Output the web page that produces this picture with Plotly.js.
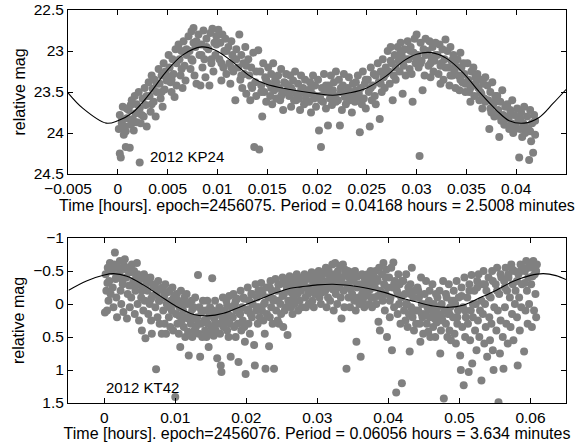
<!DOCTYPE html>
<html>
<head>
<meta charset="utf-8">
<script src="https://cdn.plot.ly/plotly-3.0.1.min.js"></script>
<style>html,body{margin:0;padding:0;background:#fff;}#chart{width:587px;height:442px;}</style>
</head>
<body>
<div id="chart"></div>
<script>
// ---- 2012 KP24 (top panel) ----
const kp24_t = [
0.0001,0.0002,0.0003,0.0004,0.0005,0.0006,0.0007,0.0008,0.0009,0.0002,0.0008,
0.0011,0.0012,0.0013,0.0014,0.0015,0.0016,0.0017,0.0018,0.0019,0.0013,
0.0021,0.0022,0.0022,0.0023,0.0025,0.0026,0.0027,0.0028,0.0029,
0.0031,0.0032,0.0033,0.0034,0.0035,0.0036,0.0037,0.0038,0.0039,
0.0041,0.0042,0.0043,0.0044,0.0045,0.0046,0.0047,0.0048,0.0049,
0.0051,0.0052,0.0053,0.0054,0.0055,0.0056,0.0057,0.0058,0.0059,
0.0061,0.0062,0.0063,0.0064,0.0065,0.0066,0.0067,0.0068,0.0069,
0.0071,0.0072,0.0073,0.0074,0.0075,0.0076,0.0077,0.0078,0.0079,0.0076,
0.0081,0.0082,0.0083,0.0084,0.0085,0.0086,0.0087,0.0088,0.0089,
0.0091,0.0092,0.0093,0.0094,0.0095,0.0096,0.0097,0.0098,0.0099,
0.0101,0.0102,0.0103,0.0104,0.0105,0.0106,0.0107,0.0108,0.0109,
0.0111,0.0112,0.0113,0.0114,0.0115,0.0116,0.0117,0.0118,0.0119,
0.0121,0.0122,0.0123,0.0124,0.0125,0.0126,0.0127,0.0128,0.0129,
0.0131,0.0132,0.0133,0.0134,0.0135,0.0136,0.0137,0.0138,0.0139,
0.0141,0.0142,0.0143,0.0144,0.0145,0.0146,0.0147,0.0148,0.0149,
0.0151,0.0152,0.0153,0.0154,0.0155,0.0156,0.0157,0.0158,0.0159,
0.0161,0.0162,0.0163,0.0164,0.0165,0.0166,0.0167,0.0168,0.0169,
0.0171,0.0172,0.0173,0.0174,0.0175,0.0176,0.0177,0.0178,0.0179,
0.0181,0.0182,0.0183,0.0184,0.0185,0.0186,0.0187,0.0188,0.0189,
0.0191,0.0192,0.0193,0.0194,0.0195,0.0196,0.0197,0.0198,0.0199,
0.0201,0.0202,0.0203,0.0204,0.0205,0.0206,0.0207,0.0208,0.0209,
0.0211,0.0212,0.0213,0.0214,0.0215,0.0216,0.0217,0.0218,0.0219,
0.0221,0.0222,0.0223,0.0224,0.0225,0.0226,0.0227,0.0228,0.0229,
0.0231,0.0232,0.0233,0.0234,0.0235,0.0236,0.0237,0.0238,0.0239,
0.0241,0.0242,0.0243,0.0244,0.0245,0.0246,0.0247,0.0248,0.0249,
0.0251,0.0252,0.0253,0.0254,0.0255,0.0256,0.0257,0.0258,0.0259,
0.0261,0.0262,0.0263,0.0264,0.0265,0.0266,0.0267,0.0268,0.0269,
0.0271,0.0272,0.0273,0.0274,0.0275,0.0276,0.0277,0.0278,0.0279,
0.0281,0.0282,0.0283,0.0284,0.0285,0.0286,0.0287,0.0288,0.0289,
0.0291,0.0292,0.0293,0.0294,0.0295,0.0296,0.0297,0.0298,0.0299,
0.0300,0.0301,0.0302,0.0303,0.0304,0.0305,0.0306,0.0307,0.0308,0.0309,
0.0311,0.0312,0.0313,0.0314,0.0315,0.0316,0.0317,0.0318,0.0319,
0.0321,0.0322,0.0323,0.0324,0.0325,0.0326,0.0327,0.0328,0.0329,
0.0331,0.0332,0.0333,0.0334,0.0335,0.0336,0.0337,0.0338,0.0339,
0.0341,0.0342,0.0343,0.0344,0.0345,0.0346,0.0347,0.0348,0.0349,
0.0351,0.0352,0.0353,0.0354,0.0355,0.0356,0.0357,0.0358,0.0359,
0.0361,0.0362,0.0363,0.0364,0.0365,0.0366,0.0367,0.0368,0.0369,
0.0371,0.0372,0.0373,0.0374,0.0375,0.0376,0.0377,0.0378,0.0379,
0.0381,0.0382,0.0383,0.0384,0.0385,0.0386,0.0387,0.0388,0.0389,
0.0391,0.0392,0.0393,0.0394,0.0395,0.0396,0.0397,0.0398,0.0399,
0.0401,0.0402,0.0403,0.0404,0.0405,0.0406,0.0407,0.0408,0.0409,
0.0411,0.0412,0.0413,0.0414,0.0415,0.0416,0.0417,0.0418,0.0419
];
const kp24_mag = [
23.95,23.78,24.30,23.88,23.68,24.02,23.92,24.17,23.82,24.25,23.98,
23.72,24.18,23.90,23.60,23.83,23.97,23.55,23.76,23.87,23.66,
23.50,24.36,23.70,23.88,23.58,23.80,23.45,23.66,23.92,
23.38,23.55,23.74,23.30,23.46,23.62,23.35,23.80,23.50,
23.22,23.40,23.58,23.30,23.68,23.15,23.47,23.25,23.36,
23.05,23.20,23.38,23.50,23.10,23.28,23.56,22.98,23.42,
22.92,23.10,23.30,23.00,23.45,22.88,23.18,23.36,23.05,
22.82,23.00,23.22,22.76,23.12,22.90,23.30,22.95,23.40,22.72,
22.80,23.05,23.42,22.92,23.20,22.75,23.10,23.32,22.85,
22.98,23.42,22.78,23.15,22.73,23.25,22.90,23.05,22.82,
22.74,23.10,22.90,23.36,22.80,23.20,23.00,22.85,23.28,
22.95,23.15,23.40,22.88,23.05,23.25,23.10,23.60,22.98,
23.20,22.80,23.35,23.05,23.45,23.15,23.28,22.95,23.52,
23.10,23.30,23.60,23.20,23.45,23.02,24.17,23.38,23.55,
22.99,24.20,23.25,23.42,23.80,23.15,23.50,23.32,23.62,
23.20,23.40,23.55,23.28,23.65,23.15,23.48,23.35,23.58,
23.30,23.45,23.60,23.22,23.52,23.72,23.38,23.50,23.28,
23.42,23.55,23.30,23.68,23.48,23.36,23.60,23.25,23.52,
23.40,23.58,23.72,23.30,23.50,23.45,23.65,23.35,23.55,
23.48,23.62,23.38,23.75,23.52,23.30,23.58,23.42,23.68,
23.35,23.97,23.55,24.17,23.45,23.62,23.28,23.50,23.70,
23.91,23.42,23.58,23.30,23.66,23.48,23.38,23.55,23.25,
23.60,23.35,23.91,23.50,23.72,23.42,23.28,23.56,23.65,
23.45,23.32,23.60,23.50,23.75,23.40,23.55,23.62,23.38,
23.30,23.52,23.99,23.45,23.65,23.25,23.58,23.40,23.70,
23.35,23.50,23.92,23.20,23.60,23.42,23.28,23.55,23.65,
23.15,23.38,23.83,23.25,23.50,23.10,23.32,23.45,23.20,
23.00,23.25,23.40,22.95,23.15,23.60,23.30,23.05,23.20,
22.95,23.12,23.25,22.90,23.05,23.52,23.18,22.98,23.30,
22.88,23.10,23.22,22.95,23.28,23.62,23.02,22.85,23.15,
22.80,23.05,23.20,24.28,22.90,23.12,23.48,22.98,23.30,22.85,
23.00,23.18,22.88,23.32,23.08,22.95,23.25,23.12,22.90,
23.05,23.28,22.92,23.40,23.15,22.98,23.35,23.10,22.86,
23.00,23.20,23.42,22.95,23.12,23.30,23.05,23.25,23.45,
23.10,23.30,23.48,23.02,23.20,23.38,23.15,23.28,23.50,
23.15,23.35,23.50,23.62,23.25,23.42,23.20,23.55,23.32,
23.28,23.45,23.60,23.35,23.52,23.70,23.40,23.58,23.32,
23.42,23.60,23.95,23.50,23.75,23.38,23.65,23.80,23.55,
23.55,23.72,24.05,23.62,23.85,23.48,23.78,23.90,23.68,
23.65,23.82,23.95,23.72,23.88,23.60,24.00,23.78,23.90,
23.70,23.85,24.30,23.95,23.75,24.05,23.88,23.68,24.00,
23.80,23.95,24.33,23.72,24.10,23.88,24.24,23.78,24.02
];
// denser core of the KP24 light curve
const kp24_core_t = [
0.0004,0.0009,0.0014,0.0019,0.0024,0.0029,0.0034,0.0039,0.0044,0.0049,0.0054,0.0059,0.0064,0.0069,0.0074,0.0079,0.0084,0.0089,0.0094,0.0099,
0.0104,0.0109,0.0114,0.0119,0.0124,0.0129,0.0134,0.0139,0.0144,0.0149,0.0154,0.0159,0.0164,0.0169,0.0174,0.0179,0.0184,0.0189,0.0194,0.0199,
0.0204,0.0209,0.0214,0.0219,0.0224,0.0229,0.0234,0.0239,0.0244,0.0249,0.0254,0.0259,0.0264,0.0269,0.0274,0.0279,0.0284,0.0289,0.0294,0.0299,
0.0304,0.0309,0.0314,0.0319,0.0324,0.0329,0.0334,0.0339,0.0344,0.0349,0.0354,0.0359,0.0364,0.0369,0.0374,0.0379,0.0384,0.0389,0.0394,0.0399,
0.0404,0.0409,0.0414,0.0419
];
const kp24_core_mag = [
23.85,23.70,23.88,23.65,23.78,23.55,23.65,23.40,23.50,23.30,23.35,23.15,23.22,22.98,23.10,22.88,23.05,22.95,23.10,22.92,
23.15,23.00,23.20,23.10,23.30,23.18,23.42,23.25,23.50,23.35,23.45,23.38,23.55,23.40,23.45,23.60,23.48,23.62,23.45,23.55,
23.60,23.42,23.50,23.62,23.45,23.52,23.55,23.48,23.58,23.35,23.45,23.30,23.40,23.28,23.12,23.35,23.02,23.10,23.00,23.08,
23.15,23.05,23.15,23.05,23.18,23.20,23.30,23.18,23.35,23.40,23.45,23.40,23.50,23.62,23.70,23.62,23.80,23.82,23.78,23.95,
23.82,23.92,23.98,23.85
];
const kp24_fit_t   = [-0.005,-0.0035,-0.00117,0,0.0015,0.0032,0.0048,0.0065,0.0084,0.0098,0.0115,0.0132,0.0148,0.0173,0.02,0.0216,0.0233,0.025,0.027,0.0286,0.03,0.0315,0.033,0.0347,0.0363,0.038,0.0393,0.0408,0.0423,0.0437,0.045];
const kp24_fit_mag = [23.51,23.70,23.88,23.85,23.75,23.52,23.26,23.05,22.95,22.99,23.13,23.30,23.40,23.47,23.52,23.54,23.51,23.45,23.30,23.13,23.04,23.02,23.09,23.27,23.50,23.72,23.85,23.88,23.81,23.64,23.47];

// ---- 2012 KT42 (bottom panel) ----
const kt42_t = [
0.0001,0.0002,0.0003,0.0004,0.0005,0.0006,0.0007,0.0008,0.0009,
0.0011,0.0012,0.0013,0.0014,0.0015,0.0016,0.0017,0.0018,0.0019,
0.0021,0.0022,0.0023,0.0024,0.0025,0.0026,0.0027,0.0028,0.0029,
0.0031,0.0032,0.0033,0.0034,0.0035,0.0036,0.0037,0.0038,0.0039,
0.0041,0.0042,0.0043,0.0044,0.0045,0.0046,0.0047,0.0048,0.0049,
0.0051,0.0052,0.0053,0.0054,0.0055,0.0056,0.0057,0.0058,0.0059,
0.0061,0.0062,0.0063,0.0064,0.0065,0.0066,0.0067,0.0068,0.0069,
0.0071,0.0072,0.0073,0.0074,0.0075,0.0076,0.0077,0.0078,0.0079,
0.0081,0.0082,0.0083,0.0084,0.0085,0.0086,0.0087,0.0088,0.0089,
0.0091,0.0092,0.0093,0.0094,0.0095,0.0096,0.0097,0.0098,0.0099,
0.0100,0.0101,0.0102,0.0103,0.0104,0.0105,0.0106,0.0107,0.0108,0.0109,
0.0111,0.0112,0.0113,0.0114,0.0115,0.0116,0.0117,0.0118,0.0119,
0.0121,0.0122,0.0123,0.0124,0.0125,0.0126,0.0127,0.0128,0.0129,
0.0131,0.0132,0.0133,0.0134,0.0135,0.0136,0.0137,0.0138,0.0139,
0.0141,0.0142,0.0143,0.0144,0.0145,0.0146,0.0147,0.0148,0.0149,
0.0151,0.0152,0.0153,0.0154,0.0155,0.0156,0.0157,0.0158,0.0159,
0.0161,0.0162,0.0163,0.0164,0.0165,0.0166,0.0167,0.0168,0.0169,
0.0171,0.0172,0.0173,0.0174,0.0175,0.0176,0.0177,0.0178,0.0179,
0.0181,0.0182,0.0183,0.0184,0.0185,0.0186,0.0187,0.0188,0.0189,
0.0191,0.0192,0.0193,0.0194,0.0195,0.0196,0.0197,0.0198,0.0199,
0.0201,0.0202,0.0203,0.0204,0.0205,0.0206,0.0207,0.0208,0.0209,
0.0211,0.0212,0.0213,0.0214,0.0215,0.0216,0.0217,0.0218,0.0219,
0.0221,0.0222,0.0223,0.0224,0.0225,0.0226,0.0227,0.0228,0.0229,
0.0231,0.0232,0.0233,0.0234,0.0235,0.0236,0.0237,0.0238,0.0239,
0.0241,0.0242,0.0243,0.0244,0.0245,0.0246,0.0247,0.0248,0.0249,
0.0251,0.0252,0.0253,0.0254,0.0255,0.0256,0.0257,0.0258,0.0259,
0.0261,0.0262,0.0263,0.0264,0.0265,0.0266,0.0267,0.0268,0.0269,
0.0271,0.0272,0.0273,0.0274,0.0275,0.0276,0.0277,0.0278,0.0279,
0.0281,0.0282,0.0283,0.0284,0.0285,0.0286,0.0287,0.0288,0.0289,
0.0291,0.0292,0.0293,0.0294,0.0295,0.0296,0.0297,0.0298,0.0299,
0.0301,0.0302,0.0303,0.0304,0.0305,0.0306,0.0307,0.0308,0.0309,
0.0311,0.0312,0.0313,0.0314,0.0315,0.0316,0.0317,0.0318,0.0319,
0.0321,0.0322,0.0323,0.0324,0.0325,0.0326,0.0327,0.0328,0.0329,
0.0331,0.0332,0.0333,0.0334,0.0335,0.0336,0.0337,0.0338,0.0339,
0.0341,0.0342,0.0343,0.0344,0.0345,0.0346,0.0347,0.0348,0.0349,
0.0351,0.0352,0.0353,0.0354,0.0355,0.0356,0.0357,0.0358,0.0359,
0.0361,0.0362,0.0363,0.0364,0.0365,0.0366,0.0367,0.0368,0.0369,
0.0371,0.0372,0.0373,0.0374,0.0375,0.0376,0.0377,0.0378,0.0379,
0.0381,0.0382,0.0383,0.0384,0.0385,0.0386,0.0387,0.0388,0.0389,
0.0391,0.0392,0.0393,0.0394,0.0395,0.0396,0.0397,0.0398,0.0399,
0.0401,0.0402,0.0403,0.0404,0.0405,0.0406,0.0407,0.0408,0.0409,
0.0411,0.0412,0.0413,0.0414,0.0415,0.0416,0.0417,0.0418,0.0419,
0.0421,0.0422,0.0423,0.0424,0.0425,0.0426,0.0427,0.0428,0.0429,
0.0430,0.0431,0.0432,0.0433,0.0434,0.0435,0.0436,0.0437,0.0438,0.0439,
0.0441,0.0442,0.0443,0.0444,0.0445,0.0446,0.0447,0.0448,0.0449,
0.0451,0.0452,0.0453,0.0454,0.0455,0.0456,0.0457,0.0458,0.0459,
0.0461,0.0462,0.0463,0.0464,0.0465,0.0466,0.0467,0.0468,0.0469,
0.0471,0.0472,0.0473,0.0474,0.0475,0.0476,0.0477,0.0478,0.0479,
0.0481,0.0482,0.0483,0.0484,0.0485,0.0486,0.0487,0.0488,0.0489,
0.0491,0.0492,0.0493,0.0494,0.0495,0.0496,0.0497,0.0498,0.0499,
0.0501,0.0502,0.0503,0.0504,0.0505,0.0506,0.0507,0.0508,0.0509,
0.0511,0.0512,0.0513,0.0514,0.0515,0.0516,0.0517,0.0518,0.0519,
0.0521,0.0522,0.0523,0.0524,0.0525,0.0526,0.0527,0.0528,0.0529,
0.0531,0.0532,0.0533,0.0534,0.0535,0.0536,0.0537,0.0538,0.0539,
0.0541,0.0542,0.0543,0.0544,0.0545,0.0546,0.0547,0.0548,0.0549,
0.0551,0.0552,0.0553,0.0554,0.0555,0.0556,0.0557,0.0558,0.0559,
0.0561,0.0562,0.0563,0.0564,0.0565,0.0566,0.0567,0.0568,0.0569,
0.0571,0.0572,0.0573,0.0574,0.0575,0.0576,0.0577,0.0578,0.0579,
0.0581,0.0582,0.0583,0.0584,0.0585,0.0586,0.0587,0.0588,0.0589,
0.0591,0.0592,0.0593,0.0594,0.0595,0.0596,0.0597,0.0598,0.0599,
0.0601,0.0602,0.0603,0.0604,0.0605,0.0606,0.0607,0.0608,0.0609
];
const kt42_mag = [
0.13,-0.45,-0.20,0.10,-0.55,-0.05,-0.35,-0.62,-0.15,
-0.50,-0.25,0.05,-0.60,-0.78,-0.38,-0.10,0.20,-0.55,
-0.45,-0.65,-0.20,0.00,-0.52,-0.30,0.12,-0.58,-0.68,
-0.40,0.22,-0.15,-0.55,-0.28,0.05,-0.48,-0.10,-0.60,
-0.35,-0.50,0.15,-0.20,-0.42,-0.62,0.00,-0.30,0.25,
-0.38,-0.10,0.40,-0.25,0.10,-0.45,-0.05,0.52,-0.30,
-0.20,0.15,-0.35,0.00,-0.40,0.25,0.45,-0.12,-0.28,
-0.30,0.05,0.99,-0.15,0.20,-0.35,-0.05,0.30,-0.22,
0.45,-0.25,0.10,-0.10,0.30,-0.30,0.45,0.00,-0.18,
0.20,-0.20,0.35,-0.05,0.10,-0.25,0.40,0.00,-0.12,
1.41,0.15,-0.15,0.30,-0.05,0.45,0.05,0.65,-0.20,0.25,
0.10,0.35,-0.10,0.50,0.20,-0.15,0.00,0.42,0.78,
0.15,0.30,-0.05,0.50,0.22,0.05,0.40,-0.10,0.35,
0.20,-0.44,0.45,0.05,0.80,0.30,0.12,0.50,-0.05,
0.25,0.40,0.10,0.50,-0.05,0.30,0.65,0.18,0.45,
0.35,-0.39,0.10,0.48,0.22,-0.05,0.40,0.15,0.82,
0.30,0.05,0.45,0.93,1.03,0.20,-0.10,0.35,0.10,
0.25,-0.05,0.40,0.15,0.50,-0.12,0.30,0.80,0.05,
0.20,-0.15,0.35,0.00,0.50,0.10,-0.08,0.30,0.88,
0.15,-0.20,0.40,0.05,0.25,-0.10,0.35,0.57,1.06,
0.10,-0.25,0.30,-0.05,0.45,0.15,-0.15,0.20,0.00,
0.62,0.93,-0.30,0.10,-0.10,0.30,-0.20,0.05,0.20,
-0.32,0.10,-0.15,0.25,0.00,0.45,0.98,-0.25,0.15,
-0.10,0.64,0.20,-0.35,0.05,-0.20,0.30,-0.05,0.98,
-0.38,0.10,-0.20,0.25,-0.05,0.30,-0.30,0.00,0.15,
-0.40,0.35,-0.15,0.10,-0.30,0.05,-0.22,0.47,-0.05,
-0.42,-0.20,0.05,-0.30,0.15,-0.10,-0.35,0.00,-0.25,
-0.45,-0.15,0.10,-0.30,-0.05,-0.40,-0.20,0.05,-0.35,
-0.30,-0.45,-0.10,0.05,-0.25,-0.38,-0.15,0.00,-0.42,
-0.20,-0.48,-0.05,-0.32,0.05,-0.40,-0.15,-0.25,-0.45,
-0.35,-0.50,-0.10,-0.25,0.00,-0.42,-0.18,-0.30,-0.47,
-0.20,-0.55,0.05,-0.35,-0.10,-0.45,-0.25,-0.05,-0.40,
-0.60,-0.30,0.10,-0.45,-0.62,-0.15,-0.35,0.00,-0.50,
-0.25,-0.58,-0.10,0.22,-0.40,-0.60,-0.20,0.05,-0.45,
0.98,-0.30,-0.50,-0.10,-0.40,0.05,-0.22,-0.48,-0.15,
-0.35,-0.05,-0.50,0.10,0.57,-0.25,-0.42,-0.10,0.00,
0.80,-0.30,-0.45,-0.05,-0.20,0.05,-0.38,-0.12,-0.28,
-0.45,-0.20,0.00,-0.35,-0.50,-0.10,0.05,-0.30,-0.42,
-0.25,-0.50,0.00,-0.38,-0.12,0.27,-0.55,0.40,-0.20,
-0.45,-0.05,-0.62,-0.30,0.10,-0.15,-0.52,0.50,-0.25,
-0.40,0.20,-0.10,-0.55,0.70,-0.25,-0.63,0.05,-0.35,
1.34,-0.20,0.15,-0.45,0.00,-0.30,0.30,-0.10,1.20,
-0.35,0.10,-0.15,0.25,-0.45,0.00,0.35,-0.25,0.15,
0.72,-0.30,0.05,-0.55,0.20,-0.10,0.40,-0.20,0.10,0.30,
-0.25,0.10,-0.10,0.30,0.57,-0.40,0.00,0.20,0.45,
-0.15,0.15,-0.35,0.30,0.05,0.42,-0.05,0.20,0.50,
0.10,-0.30,0.35,0.00,0.22,0.50,-0.15,0.28,0.05,
0.15,-0.20,0.75,0.40,0.00,0.25,-0.35,1.43,0.10,
0.30,-0.10,0.50,0.15,-0.30,0.40,0.05,0.55,-0.05,
0.20,-0.20,0.45,0.00,0.60,-0.35,0.30,0.10,-0.10,
0.78,1.00,-0.25,0.35,0.05,1.23,-0.40,0.50,0.20,
-0.10,0.30,1.03,-0.30,0.55,0.10,-0.44,0.90,0.20,
-0.20,0.40,0.00,0.70,-0.35,0.25,-0.45,0.50,0.10,
1.16,-0.30,0.15,-0.50,0.60,0.00,0.35,-0.20,0.80,
-0.40,0.20,0.55,-0.10,0.30,-0.50,0.70,1.00,0.05,
-0.30,0.40,-0.55,0.10,1.49,-0.15,0.75,0.25,-0.40,
0.50,0.98,-0.35,0.05,-0.55,0.30,-0.20,0.60,-0.45,
-0.10,0.35,-0.60,0.15,-0.30,0.55,-0.50,0.00,-0.20,
0.20,0.93,-0.45,-0.10,0.40,-0.60,0.05,-0.30,-0.55,
0.72,-0.50,0.10,-0.65,-0.20,0.30,-0.40,0.00,-0.58,
-0.30,0.35,-0.55,-0.65,0.10,-0.45,-0.15,0.20,-0.60
];
// denser core of the KT42 light curve
const kt42_core_t = [
0.00045,0.0011,0.0017,0.0026,0.0034,0.0039,0.0047,0.0053,0.0059,0.0066,0.0072,0.0078,0.0085,0.0092,0.0098,0.0106,0.0112,0.0118,0.0124,0.0132,
0.0137,0.0144,0.0149,0.0156,0.0162,0.0168,0.0173,0.0178,0.0185,0.0191,0.0197,0.0203,0.0208,0.0215,0.0221,0.0226,0.0233,0.0238,0.0245,0.0251,
0.0256,0.0263,0.0268,0.0274,0.0281,0.0287,0.0293,0.0299,0.0305,0.0311,0.0316,0.0322,0.0328,0.0334,0.0339,0.0345,0.0351,0.0357,0.0363,0.0368,
0.0374,0.0379,0.0385,0.0391,0.0396,0.0402,0.0408,0.0413,0.0419,0.0425,0.0431,0.0436,0.0442,0.0447,0.0453,0.0458,0.0464,0.0469,0.0475,0.0481,
0.0486,0.0492,0.0497,0.0503,0.0508,0.0514,0.0519,0.0525,0.0531,0.0536,0.0542,0.0547,0.0553,0.0558,0.0564,0.0569,0.0575,0.0581,0.0586,0.0592,
0.0597,0.0603,0.0608
];
const kt42_core_mag = [
-0.32,-0.58,-0.42,-0.36,-0.50,-0.28,-0.45,-0.20,-0.38,-0.08,-0.25,-0.05,-0.15,0.05,-0.10,0.18,0.00,0.22,0.08,0.30,
0.10,0.28,0.05,0.30,0.12,0.25,0.02,0.18,-0.05,0.15,-0.08,0.08,-0.15,0.05,-0.20,-0.02,-0.25,-0.08,-0.30,-0.12,
-0.35,-0.18,-0.38,-0.20,-0.35,-0.25,-0.38,-0.22,-0.40,-0.30,-0.50,-0.22,-0.42,-0.32,-0.52,-0.25,-0.45,-0.30,-0.15,-0.40,
-0.22,-0.10,-0.35,-0.15,-0.40,-0.05,-0.30,-0.15,-0.35,0.00,-0.15,0.10,-0.20,0.15,0.00,-0.20,0.12,-0.10,0.20,-0.15,
0.15,-0.05,0.20,-0.12,0.10,-0.20,0.00,-0.25,-0.05,-0.30,-0.12,-0.35,-0.20,-0.45,-0.25,-0.40,-0.52,-0.35,-0.50,-0.32,
-0.55,-0.42,-0.50
];
const kt42_fit_t   = [-0.005,-0.0025,0,0.0013,0.0032,0.0055,0.0079,0.0102,0.0126,0.0145,0.0168,0.0192,0.0216,0.0239,0.0262,0.0277,0.03,0.0322,0.0346,0.037,0.0393,0.0416,0.044,0.0463,0.0486,0.0505,0.0528,0.0552,0.0575,0.0599,0.0618,0.0636,0.065];
const kt42_fit_mag = [-0.21,-0.35,-0.44,-0.46,-0.42,-0.29,-0.12,0.04,0.16,0.18,0.14,0.04,-0.06,-0.16,-0.24,-0.26,-0.29,-0.30,-0.28,-0.24,-0.18,-0.10,-0.03,0.03,0.05,0.02,-0.09,-0.21,-0.34,-0.43,-0.46,-0.43,-0.37];

// ---- ticks / labels ----
const top_xticks = [-0.005,0,0.005,0.01,0.015,0.02,0.025,0.03,0.035,0.04];
const top_yticks = [22.5,23,23.5,24,24.5];
const bot_xticks = [0,0.01,0.02,0.03,0.04,0.05,0.06];
const bot_yticks = [-1,-0.5,0,0.5,1,1.5];
const top_xlabel = "Time [hours]. epoch=2456075. Period = 0.04168 hours = 2.5008 minutes";
const bot_xlabel = "Time [hours]. epoch=2456076. Period = 0.06056 hours = 3.634 minutes";
const ylabel = "relative mag";
const top_name = "2012 KP24";
const bot_name = "2012 KT42";

const FONT = "Liberation Sans, Arial, Helvetica, sans-serif";
const dotColor = "#808080";
const dot = {color: dotColor, size: 8, line: {width: 0}};

const traces = [
  {x: kp24_t.concat(kp24_core_t), y: kp24_mag.concat(kp24_core_mag), type: "scatter", mode: "markers",
   xaxis: "x", yaxis: "y", marker: dot, hoverinfo: "skip"},
  {x: kp24_fit_t, y: kp24_fit_mag, type: "scatter", mode: "lines", xaxis: "x", yaxis: "y",
   line: {color: "#000", width: 1.1, shape: "spline", smoothing: 1}, hoverinfo: "skip"},
  {x: kt42_t.concat(kt42_core_t), y: kt42_mag.concat(kt42_core_mag), type: "scatter", mode: "markers",
   xaxis: "x2", yaxis: "y2", marker: dot, hoverinfo: "skip"},
  {x: kt42_fit_t, y: kt42_fit_mag, type: "scatter", mode: "lines", xaxis: "x2", yaxis: "y2",
   line: {color: "#000", width: 1.1, shape: "spline", smoothing: 1}, hoverinfo: "skip"}
];

const axBase = {
  showgrid: false, zeroline: false, showline: true, linecolor: "#000", linewidth: 1,
  mirror: "ticks", ticks: "inside", ticklen: 5, tickcolor: "#000", tickwidth: 1,
  tickfont: {family: FONT, size: 15.5, color: "#000"}
};
const titleFont = {family: FONT, size: 16, color: "#000"};

const layout = {
  width: 587, height: 442,
  margin: {l: 68, r: 21, t: 10, b: 39},
  paper_bgcolor: "#fff", plot_bgcolor: "#fff",
  showlegend: false,
  font: {family: FONT, size: 15.5, color: "#000"},
  xaxis: Object.assign({}, axBase, {domain: [0, 1], anchor: "y", range: [-0.005, 0.045],
    tickvals: top_xticks, title: {text: top_xlabel, font: titleFont, standoff: 1}}),
  yaxis: Object.assign({}, axBase, {domain: [0.5827, 1], anchor: "x", range: [24.5, 22.5],
    tickvals: top_yticks, title: {text: ylabel, font: titleFont, standoff: 4}}),
  xaxis2: Object.assign({}, axBase, {domain: [0, 1], anchor: "y2", range: [-0.0051, 0.065],
    tickvals: bot_xticks, title: {text: bot_xlabel, font: titleFont, standoff: 1}}),
  yaxis2: Object.assign({}, axBase, {domain: [0, 0.4198], anchor: "x2", range: [1.5, -1],
    tickvals: bot_yticks, title: {text: ylabel, font: titleFont, standoff: 4}}),
  annotations: [
    {xref: "x", yref: "y", x: 0.0030, y: 24.29, text: top_name, showarrow: false,
     xanchor: "left", yanchor: "middle", font: {family: FONT, size: 15, color: "#000"}},
    {xref: "x2", yref: "y2", x: -0.0001, y: 1.26, text: bot_name, showarrow: false,
     xanchor: "left", yanchor: "middle", font: {family: FONT, size: 15, color: "#000"}}
  ]
};

Plotly.newPlot("chart", traces, layout, {displayModeBar: false, staticPlot: true});
</script>
</body>
</html>
